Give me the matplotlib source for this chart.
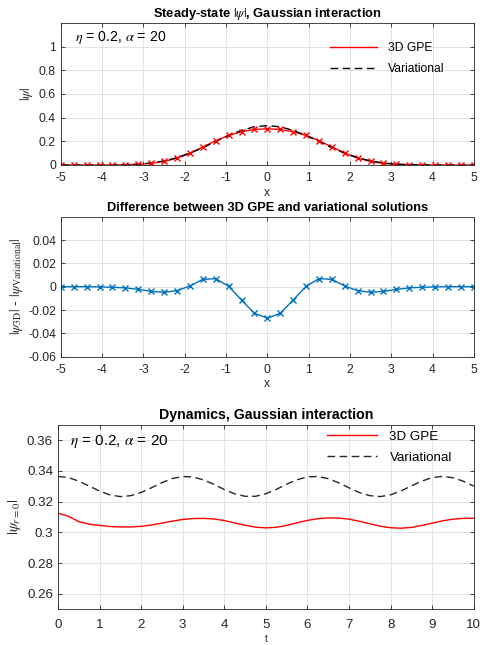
import matplotlib
matplotlib.use("Agg")
import matplotlib.pyplot as plt
import numpy as np

# steady-state profile, 33 sample points on [-5, 5]
x = np.linspace(-5, 5, 33)
psi_gpe = [0, 0, 0, 0.0002, 0.0006, 0.002, 0.005, 0.013, 0.030, 0.058, 0.100, 0.152,
           0.205, 0.250, 0.281, 0.300, 0.306,
           0.300, 0.281, 0.250, 0.205, 0.152, 0.100, 0.058, 0.030, 0.013, 0.005,
           0.002, 0.0006, 0.0002, 0, 0, 0]
psi_var = [0, 0, 0, 0.0004, 0.0011, 0.0030, 0.0073, 0.0170, 0.0348, 0.0614, 0.0994, 0.1457,
           0.1981, 0.2497, 0.2924, 0.3228, 0.3329,
           0.3228, 0.2924, 0.2497, 0.1981, 0.1457, 0.0994, 0.0614, 0.0348, 0.0170, 0.0073,
           0.0030, 0.0011, 0.0004, 0, 0, 0]

# dynamics at r = 0
t = np.arange(0, 10.01, 0.25)
dyn_gpe = [0.3125, 0.3105, 0.3070, 0.3053, 0.3045, 0.3038, 0.3035, 0.3035, 0.3039, 0.3048,
           0.3060, 0.3073, 0.3084, 0.3090, 0.3091, 0.3087, 0.3077, 0.3061, 0.3046, 0.3034,
           0.3029, 0.3033, 0.3045, 0.3062, 0.3078, 0.3089, 0.3094, 0.3093, 0.3086, 0.3072,
           0.3056, 0.3040, 0.3030, 0.3027, 0.3032, 0.3045, 0.3060, 0.3075, 0.3086, 0.3091,
           0.3092]
dyn_var = [0.3365, 0.3357, 0.3334, 0.3302, 0.3269, 0.3244, 0.3233, 0.3239, 0.3260, 0.3291,
           0.3324, 0.3351, 0.3364, 0.3361, 0.3342, 0.3313, 0.3279, 0.3251, 0.3235, 0.3235,
           0.3252, 0.3280, 0.3314, 0.3343, 0.3362, 0.3364, 0.3350, 0.3323, 0.3290, 0.3259,
           0.3239, 0.3233, 0.3245, 0.3270, 0.3303, 0.3334, 0.3357, 0.3365, 0.3356, 0.3333,
           0.3301]

plt.rcParams['font.family'] = ['Liberation Sans', 'DejaVu Sans']
plt.rcParams['mathtext.fontset'] = 'stix'
plt.rcParams['font.size'] = 8

txt_col = '#262626'
mblue = '#0072BD'
dash = (5.5, 3.2)


def style(ax, fs):
    ax.grid(True, color='#e3e3e3', linewidth=0.7)
    ax.set_axisbelow(True)
    ax.tick_params(direction='in', top=True, right=True, length=3, width=0.6,
                   labelsize=fs, colors=txt_col, labelcolor=txt_col)
    ax.tick_params(axis='x', pad=5)
    for s in ax.spines.values():
        s.set_color('#262626')
        s.set_linewidth(0.6)


fig = plt.figure(figsize=(4.83, 6.45), dpi=100)

# panel 1
ax1 = fig.add_axes([0.126, 0.7442, 0.855, 0.2202])
ax1.plot(x, psi_gpe, color='red', lw=1.0, label='3D GPE')
ax1.plot(x, psi_var, '--', color='black', lw=1.0, dashes=dash, label='Variational')
ax1.plot(x, psi_gpe, 'x', color='red', ms=5, mew=1.0, ls='none')
ax1.set_xlim(-5, 5)
ax1.set_ylim(0, 1.2)
ax1.set_xticks(range(-5, 6))
ax1.set_yticks([0, 0.2, 0.4, 0.6, 0.8, 1])
ax1.set_yticklabels(['0', '0.2', '0.4', '0.6', '0.8', '1'])
ax1.set_xticklabels([str(v) for v in range(-5, 6)])
style(ax1, 8.7)
ax1.set_title(r'Steady-state $|\psi|$, Gaussian interaction', fontsize=9.3,
              fontweight='bold', pad=4)
ax1.set_xlabel('x', fontsize=8.7, color=txt_col, labelpad=2)
ax1.set_ylabel(r'$|\psi|$', fontsize=10, color=txt_col, labelpad=3)
ax1.text(0.035, 0.9, r'$\eta$ = 0.2, $\alpha$ = 20', transform=ax1.transAxes,
         fontsize=10.2, va='center', ha='left')
ax1.legend(loc='upper right', frameon=False, fontsize=8.7, handlelength=3.9,
           labelspacing=0.75, handletextpad=0.9, borderaxespad=0.0,
           bbox_to_anchor=(0.94, 0.9))

# panel 2
ax2 = fig.add_axes([0.126, 0.447, 0.855, 0.217])
diff = np.array(psi_gpe) - np.array(psi_var)
ax2.plot(x, diff, '-x', color=mblue, lw=1.0, ms=5, mew=1.0)
ax2.set_xlim(-5, 5)
ax2.set_ylim(-0.06, 0.06)
ax2.set_xticks(range(-5, 6))
ax2.set_xticklabels([str(v) for v in range(-5, 6)])
ax2.set_yticks([-0.06, -0.04, -0.02, 0, 0.02, 0.04])
ax2.set_yticklabels(['-0.06', '-0.04', '-0.02', '0', '0.02', '0.04'])
style(ax2, 8.7)
ax2.set_title('Difference between 3D GPE and variational solutions', fontsize=9.2,
              fontweight='bold', pad=4)
ax2.set_xlabel('x', fontsize=8.7, color=txt_col, labelpad=2)
ax2.set_ylabel(r'$|\psi_{\mathrm{3D}}|$ - $|\psi_{\mathrm{Variational}}|$', fontsize=10,
               color=txt_col, labelpad=2)

# panel 3
ax3 = fig.add_axes([0.120, 0.0558, 0.861, 0.2853])
ax3.plot(t, dyn_gpe, color='red', lw=1.0, label='3D GPE')
ax3.plot(t, dyn_var, '--', color='#262626', lw=1.0, dashes=dash, label='Variational')
ax3.set_xlim(0, 10)
ax3.set_ylim(0.25, 0.37)
ax3.set_xticks(range(0, 11))
ax3.set_yticks([0.26, 0.28, 0.30, 0.32, 0.34, 0.36])
ax3.set_yticklabels(['0.26', '0.28', '0.3', '0.32', '0.34', '0.36'])
style(ax3, 9.6)
ax3.tick_params(axis='x', pad=7)
ax3.set_title('Dynamics, Gaussian interaction', fontsize=10.2, fontweight='bold', pad=4)
ax3.set_xlabel('t', fontsize=7, color=txt_col, labelpad=2)
ax3.set_ylabel(r'$|\psi_{r=0}|$', fontsize=11, color=txt_col, labelpad=3)
ax3.text(0.03, 0.91, r'$\eta$ = 0.2, $\alpha$ = 20', transform=ax3.transAxes,
         fontsize=11, va='center', ha='left')
ax3.legend(loc='upper right', frameon=False, fontsize=9.6, handlelength=3.7,
           labelspacing=0.65, handletextpad=0.95, borderaxespad=0.0,
           bbox_to_anchor=(0.96, 1.0))

fig.savefig('out.png', dpi=100)
